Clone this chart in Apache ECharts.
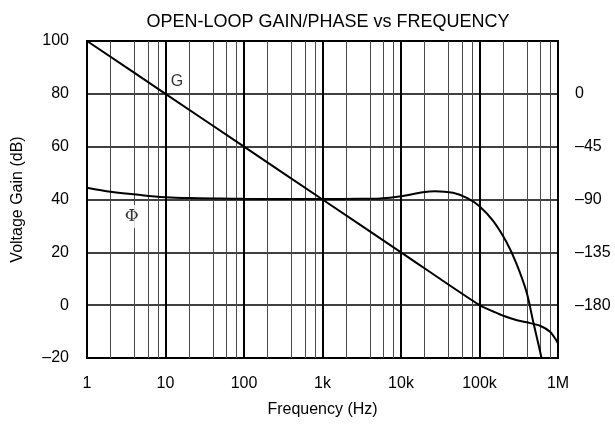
<!DOCTYPE html>
<html>
<head>
<meta charset="utf-8">
<script src="https://cdn.jsdelivr.net/npm/echarts@6/dist/echarts.min.js"></script>
<style>
    html, body { margin: 0; padding: 0; background: #fff; }
    #chart { width: 615px; height: 426px; }
</style>
</head>
<body>
<div id="chart"></div>
<script>
// gain (dB) vs frequency (Hz)
const gainFreq = [1, 10, 100, 1000, 10000, 100000, 150000, 201000, 300000, 399000, 590000, 791000, 962000, 1000000];
const gainDb = [100, 80, 60, 40, 20, 0, -2.4, -4.0, -5.7, -6.5, -7.8, -10.1, -13.5, -14.5];

// phase (degrees) vs frequency (Hz)
const phaseFreq = [1, 2, 5, 10, 20, 50, 100, 300, 1000, 3000, 5400, 10000, 19000, 27000, 46000, 69000, 100000, 150000, 222000, 298000, 399000, 485000, 607000, 650000];
const phaseDeg = [-80, -83.4, -86.3, -88, -88.8, -89.2, -89.4, -89.5, -89.5, -89.4, -89.1, -87.2, -83.8, -82.9, -84.3, -88.6, -95.7, -108.5, -126.7, -145.2, -169.2, -194.6, -223, -235];

// minor vertical grid positions (Hz)
const minorFreq = [2, 4, 6, 8, 20, 40, 60, 80, 200, 400, 600, 800, 2000, 4000, 6000, 8000,
    20000, 40000, 60000, 80000, 200000, 400000, 600000, 800000];

// curve labels: [freq, dB]
const gLabelAt = [14, 84.5];
const phiLabelAt = [3.7, 33.6];

const freqLabels = { 1: "1", 10: "10", 100: "100", 1000: "1k", 10000: "10k", 100000: "100k", 1000000: "1M" };

const font = "Liberation Sans";
const fontSize = 16;
const toDash = v => String(v).replace("-", "\u2013");

const zip = (xs, ys) => xs.map((x, i) => [x, ys[i]]);

const myChart = echarts.init(document.getElementById("chart"));

const option = {
    animation: false,
    title: {
        text: "OPEN-LOOP GAIN/PHASE vs FREQUENCY",
        left: 323,
        textAlign: "center",
        top: 8,
        textStyle: { fontFamily: font, fontSize: 18, fontWeight: "normal", color: "#000" },
    },
    grid: {
        left: 87,
        right: 57,
        top: 41,
        bottom: 68,
        show: true,
        borderColor: "#000",
        borderWidth: 2,
        backgroundColor: "#fff",
    },
    xAxis: {
        type: "log",
        logBase: 10,
        min: 1,
        max: 1000000,
        name: "Frequency (Hz)",
        nameLocation: "middle",
        nameGap: 44,
        nameTextStyle: { fontFamily: font, fontSize: fontSize, color: "#000" },
        axisLine: { show: false },
        axisTick: { show: false },
        axisLabel: {
            margin: 18,
            fontFamily: font,
            fontSize: fontSize,
            color: "#000",
            formatter: v => freqLabels[Math.round(v)] || "",
        },
        splitLine: { show: true, lineStyle: { color: "#000", width: 2 } },
    },
    yAxis: [
        {
            type: "value",
            min: -20,
            max: 100,
            interval: 20,
            name: "Voltage Gain (dB)",
            nameLocation: "middle",
            nameGap: 61,
            nameTextStyle: { fontFamily: font, fontSize: fontSize, color: "#000" },
            axisLine: { show: false },
            axisTick: { show: false },
            axisLabel: { margin: 18, fontFamily: font, fontSize: fontSize, color: "#000", formatter: toDash },
            splitLine: { show: true, lineStyle: { color: "#000", width: 1.5 } },
        },
        {
            type: "value",
            min: -225,
            max: 45,
            interval: 45,
            position: "right",
            axisLine: { show: false },
            axisTick: { show: false },
            axisLabel: {
                margin: 17,
                fontFamily: font,
                fontSize: fontSize,
                color: "#000",
                formatter: v => (v > 0 || v < -180 ? "" : toDash(v)),
            },
            splitLine: { show: false },
        },
    ],
    series: [
        {
            name: "G",
            type: "line",
            yAxisIndex: 0,
            data: zip(gainFreq, gainDb),
            smooth: 0.3,
            showSymbol: false,
            lineStyle: { color: "#000", width: 2 },
            z: 3,
            markLine: {
                silent: true,
                symbol: "none",
                label: { show: false },
                lineStyle: { color: "#4a4a4a", width: 1, type: "solid" },
                data: minorFreq.map(f => ({ xAxis: f })),
                z: 1,
            },
        },
        {
            name: "Phase",
            type: "line",
            yAxisIndex: 1,
            data: zip(phaseFreq, phaseDeg),
            smooth: 0.3,
            showSymbol: false,
            lineStyle: { color: "#000", width: 2 },
            z: 3,
        },
        {
            type: "scatter",
            yAxisIndex: 0,
            symbolSize: 0,
            silent: true,
            z: 5,
            data: [
                { value: gLabelAt, label: { formatter: "G", fontFamily: font } },
                {
                    value: phiLabelAt,
                    label: { formatter: "\u03a6", fontFamily: "DejaVu Serif", fontSize: 17, backgroundColor: "#fff", padding: [3, 1] },
                },
            ],
            label: { show: true, position: "inside", fontSize: 16, color: "#000" },
        },
    ],
};

myChart.setOption(option);
</script>
</body>
</html>
